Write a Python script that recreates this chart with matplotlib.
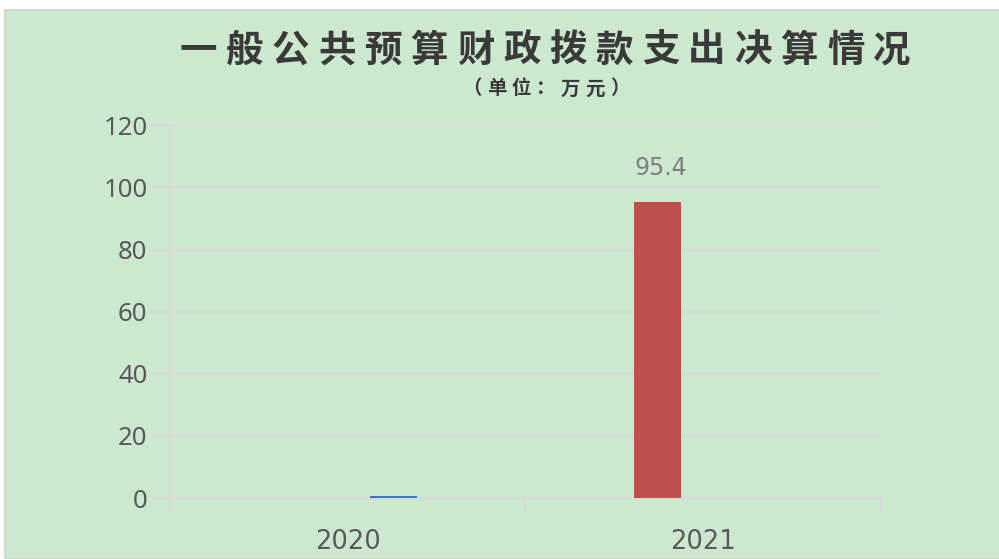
import matplotlib.pyplot as plt
import matplotlib.patches as patches

plt.rcParams['font.family'] = ['Noto Sans', 'Noto Sans CJK SC', 'DejaVu Sans']

years = ['2020', '2021']
red_vals = [0, 95.4]
blue_vals = [0.6, 0]
y_ticks = [0, 20, 40, 60, 80, 100, 120]
title = '一般公共预算财政拨款支出决算情况'
subtitle = '（单位：万元）'

bg = '#cce8cf'
grid_c = '#d9d9d9'
text_c = '#595959'

fig = plt.figure(figsize=(9.99, 5.59), dpi=100, facecolor='white')
# green panel with thin grey border, white margin top/left
fig.patches.append(patches.Rectangle((5 / 999, 0), 1, (559 - 10) / 559,
                                     transform=fig.transFigure, facecolor=bg,
                                     edgecolor='#d0d0d0', linewidth=1.2, zorder=-10))

ax = fig.add_axes([0.170, 0.109, 0.712, 0.667])
ax.set_facecolor('none')

x = range(len(years))
w = 0.132
off = 0.13
ax.bar([i - off for i in x], red_vals, width=w, color='#c0504d', zorder=3)
ax.bar([i + off for i in x], blue_vals, width=w, color='#4472c4', zorder=3)

for i, v in enumerate(red_vals):
    if v > 0:
        ax.text(i - off + 0.01, v + 7, f'{v}', ha='center', va='bottom',
                fontsize=17, color='#7f7f7f', family=['DejaVu Sans'])

ax.set_ylim(0, 120)
ax.set_xlim(-0.5, 1.5)
ax.set_yticks(y_ticks)
ax.set_yticklabels([str(t) for t in y_ticks], fontsize=18.5, color=text_c)
ax.yaxis.grid(True, color=grid_c, linewidth=1.5, zorder=0)
ax.set_axisbelow(True)

ax.set_xticks([-0.5, 0.5, 1.5])
ax.set_xticklabels([])
ax.set_xticks(list(x), minor=True)
ax.set_xticklabels(years, minor=True, fontsize=18.5, color=text_c,
                   family=['DejaVu Sans'])
ax.tick_params(axis='x', which='minor', length=0, pad=22)
ax.tick_params(axis='x', which='major', length=10, color=grid_c, width=1.5)
ax.tick_params(axis='y', length=13, color=grid_c, width=1.5, pad=3)

for s in ['top', 'right']:
    ax.spines[s].set_visible(False)
for s in ['left', 'bottom']:
    ax.spines[s].set_color(grid_c)
    ax.spines[s].set_linewidth(1.5)

# title, letter-spaced
n = len(title)
x0, x1 = 198 / 999, 892 / 999
for k, ch in enumerate(title):
    fig.text(x0 + (x1 - x0) * k / (n - 1), 1 - 50 / 559, ch, ha='center', va='center',
             fontsize=27, fontweight='bold', color='#3a3a3a',
             family=['Noto Sans CJK SC'])
m = len(subtitle)
s0, s1 = 472 / 999, 620 / 999
for k, ch in enumerate(subtitle):
    fig.text(s0 + (s1 - s0) * k / (m - 1), 1 - 89 / 559, ch, ha='center', va='center',
             fontsize=14, fontweight='bold', color='#3a3a3a',
             family=['Noto Sans CJK SC'])

fig.savefig('out.png', dpi=100, facecolor='white')
